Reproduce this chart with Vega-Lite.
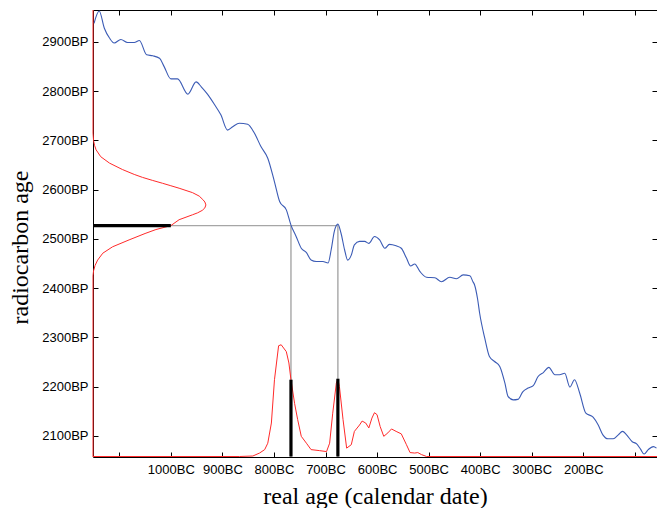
{
  "$schema": "https://vega.github.io/schema/vega-lite/v6.json",
  "autosize": {"type": "none"},
  "padding": {"left": 93, "top": 10, "right": 0, "bottom": 51},
  "width": 564,
  "height": 447,
  "background": "white",
  "view": {"stroke": null},
  "config": {
    "axis": {
      "grid": false,
      "domainColor": "black",
      "domainWidth": 1,
      "tickColor": "black",
      "tickWidth": 1,
      "labelFont": "Liberation Sans",
      "labelFontSize": 13,
      "labelColor": "black",
      "titleFont": "Liberation Serif",
      "titleFontSize": 24,
      "titleFontWeight": "normal",
      "titleColor": "black",
      "labelOverlap": false,
      "labelFlush": false
    }
  },
  "resolve": {"axis": {"x": "independent", "y": "independent"}},
  "layer": [
    {
      "data": {"values": [
        {"year": -1151, "bp": 2527, "year2": -676, "bp2": 2527},
        {"year": -767, "bp": 2527, "year2": -767, "bp2": 2057},
        {"year": -676, "bp": 2527, "year2": -676, "bp2": 2057}
      ]},
      "mark": {"type": "rule", "color": "#a6a6a6", "strokeWidth": 1.4},
      "encoding": {
        "x": {"field": "year", "type": "quantitative",
              "scale": {"domain": [-1151, -57], "nice": false, "zero": false},
              "axis": {"orient": "top", "values": [-1100, -1000, -900, -800, -700, -600, -500, -400, -300, -200, -100], "labels": false, "tickSize": -5, "title": null}},
        "y": {"field": "bp", "type": "quantitative",
              "scale": {"domain": [2057, 2965], "nice": false, "zero": false},
              "axis": {"orient": "right", "values": [2100, 2200, 2300, 2400, 2500, 2600, 2700, 2800, 2900], "labels": false, "tickSize": -5, "title": null}},
        "x2": {"field": "year2"},
        "y2": {"field": "bp2"}
      }
    },
    {
      "data": {"values": [
        {"year": -1149, "bp": 2938}, {"year": -1139, "bp": 2963}, {"year": -1129, "bp": 2928}, {"year": -1119, "bp": 2908},
        {"year": -1110, "bp": 2898}, {"year": -1097, "bp": 2905}, {"year": -1084, "bp": 2899}, {"year": -1071, "bp": 2899},
        {"year": -1061, "bp": 2903}, {"year": -1047, "bp": 2874}, {"year": -1035, "bp": 2872}, {"year": -1022, "bp": 2867},
        {"year": -1013, "bp": 2850}, {"year": -1000, "bp": 2825}, {"year": -987, "bp": 2825}, {"year": -967, "bp": 2794},
        {"year": -951, "bp": 2819}, {"year": -941, "bp": 2809}, {"year": -929, "bp": 2794}, {"year": -916, "bp": 2774},
        {"year": -903, "bp": 2752}, {"year": -890, "bp": 2721}, {"year": -880, "bp": 2728}, {"year": -867, "bp": 2735},
        {"year": -851, "bp": 2733}, {"year": -838, "bp": 2715}, {"year": -825, "bp": 2687}, {"year": -812, "bp": 2664},
        {"year": -799, "bp": 2616}, {"year": -789, "bp": 2576}, {"year": -776, "bp": 2559}, {"year": -767, "bp": 2528},
        {"year": -757, "bp": 2505}, {"year": -747, "bp": 2481}, {"year": -737, "bp": 2472}, {"year": -728, "bp": 2457},
        {"year": -718, "bp": 2454}, {"year": -705, "bp": 2454}, {"year": -695, "bp": 2451}, {"year": -689, "bp": 2478},
        {"year": -683, "bp": 2515}, {"year": -676, "bp": 2530}, {"year": -670, "bp": 2512}, {"year": -663, "bp": 2478},
        {"year": -657, "bp": 2457}, {"year": -650, "bp": 2467}, {"year": -644, "bp": 2488}, {"year": -634, "bp": 2495},
        {"year": -624, "bp": 2495}, {"year": -616, "bp": 2491}, {"year": -605, "bp": 2505}, {"year": -595, "bp": 2498},
        {"year": -585, "bp": 2481}, {"year": -576, "bp": 2489}, {"year": -563, "bp": 2486}, {"year": -553, "bp": 2481},
        {"year": -543, "bp": 2461}, {"year": -535, "bp": 2445}, {"year": -527, "bp": 2449}, {"year": -517, "bp": 2434},
        {"year": -504, "bp": 2422}, {"year": -488, "bp": 2421}, {"year": -475, "bp": 2413}, {"year": -459, "bp": 2422},
        {"year": -446, "bp": 2419}, {"year": -433, "bp": 2427}, {"year": -420, "bp": 2425}, {"year": -414, "bp": 2413},
        {"year": -411, "bp": 2407}, {"year": -405, "bp": 2378}, {"year": -401, "bp": 2349}, {"year": -391, "bp": 2298},
        {"year": -382, "bp": 2261}, {"year": -372, "bp": 2251}, {"year": -362, "bp": 2241}, {"year": -352, "bp": 2207},
        {"year": -346, "bp": 2180}, {"year": -336, "bp": 2173}, {"year": -327, "bp": 2174}, {"year": -317, "bp": 2190},
        {"year": -307, "bp": 2197}, {"year": -297, "bp": 2202}, {"year": -288, "bp": 2220}, {"year": -277, "bp": 2229},
        {"year": -267, "bp": 2239}, {"year": -255, "bp": 2224}, {"year": -246, "bp": 2224}, {"year": -236, "bp": 2227},
        {"year": -226, "bp": 2199}, {"year": -217, "bp": 2214}, {"year": -207, "bp": 2187}, {"year": -195, "bp": 2146},
        {"year": -181, "bp": 2138}, {"year": -171, "bp": 2122}, {"year": -162, "bp": 2102}, {"year": -152, "bp": 2094},
        {"year": -142, "bp": 2094}, {"year": -132, "bp": 2102}, {"year": -124, "bp": 2109}, {"year": -116, "bp": 2102},
        {"year": -105, "bp": 2088}, {"year": -97, "bp": 2084}, {"year": -89, "bp": 2073}, {"year": -82, "bp": 2063},
        {"year": -74, "bp": 2072}, {"year": -64, "bp": 2078}, {"year": -58, "bp": 2075}
      ]},
      "mark": {"type": "line", "color": "#3b5bb5", "strokeWidth": 1.1, "interpolate": "monotone"},
      "encoding": {
        "x": {"field": "year", "type": "quantitative",
              "axis": {"orient": "bottom", "values": [-1100, -1000, -900, -800, -700, -600, -500, -400, -300, -200, -100],
                       "labelExpr": "datum.value == -1100 || datum.value == -100 ? '' : (-datum.value) + 'BC'",
                       "tickSize": -5, "labelPadding": 11, "title": "real age (calendar date)", "titlePadding": 8}},
        "y": {"field": "bp", "type": "quantitative",
              "axis": {"orient": "left", "values": [2100, 2200, 2300, 2400, 2500, 2600, 2700, 2800, 2900],
                       "labelExpr": "datum.value + 'BP'", "tickSize": -5, "labelPadding": 10,
                       "title": "radiocarbon age", "titleX": -66, "titleY": 237, "titleBaseline": "alphabetic"}}
      }
    },
    {
      "data": {"values": [
        {"year": -1151, "bp": 2058}, {"year": -867, "bp": 2058}, {"year": -841, "bp": 2059}, {"year": -828, "bp": 2065},
        {"year": -818, "bp": 2072}, {"year": -812, "bp": 2085}, {"year": -805, "bp": 2126}, {"year": -799, "bp": 2214},
        {"year": -791, "bp": 2283}, {"year": -786, "bp": 2285}, {"year": -776, "bp": 2271}, {"year": -771, "bp": 2248},
        {"year": -767, "bp": 2214}, {"year": -760, "bp": 2166}, {"year": -754, "bp": 2133}, {"year": -747, "bp": 2099},
        {"year": -737, "bp": 2085}, {"year": -728, "bp": 2072}, {"year": -712, "bp": 2070}, {"year": -698, "bp": 2068},
        {"year": -692, "bp": 2085}, {"year": -686, "bp": 2146}, {"year": -679, "bp": 2207}, {"year": -676, "bp": 2215},
        {"year": -673, "bp": 2200}, {"year": -666, "bp": 2133}, {"year": -659, "bp": 2075}, {"year": -650, "bp": 2082},
        {"year": -644, "bp": 2109}, {"year": -634, "bp": 2122}, {"year": -629, "bp": 2130}, {"year": -622, "bp": 2126},
        {"year": -616, "bp": 2116}, {"year": -610, "bp": 2136}, {"year": -605, "bp": 2147}, {"year": -600, "bp": 2143},
        {"year": -594, "bp": 2119}, {"year": -587, "bp": 2099}, {"year": -579, "bp": 2106}, {"year": -572, "bp": 2114},
        {"year": -563, "bp": 2109}, {"year": -553, "bp": 2104}, {"year": -543, "bp": 2082}, {"year": -536, "bp": 2066},
        {"year": -527, "bp": 2065}, {"year": -521, "bp": 2066}, {"year": -514, "bp": 2062}, {"year": -504, "bp": 2058},
        {"year": -57, "bp": 2058}
      ]},
      "mark": {"type": "line", "color": "#ff2a2a", "strokeWidth": 1},
      "encoding": {
        "x": {"field": "year", "type": "quantitative", "axis": null},
        "y": {"field": "bp", "type": "quantitative", "axis": null}
      }
    },
    {
      "data": {"values": [
        {"i": 0, "year": -1151, "bp": 2965}, {"i": 1, "year": -1151, "bp": 2715}, {"i": 2, "year": -1150, "bp": 2700},
        {"i": 3, "year": -1148, "bp": 2690}, {"i": 4, "year": -1145, "bp": 2681}, {"i": 5, "year": -1136, "bp": 2667},
        {"i": 6, "year": -1119, "bp": 2654}, {"i": 7, "year": -1094, "bp": 2641}, {"i": 8, "year": -1071, "bp": 2631},
        {"i": 9, "year": -1055, "bp": 2625}, {"i": 10, "year": -1036, "bp": 2619}, {"i": 11, "year": -1016, "bp": 2613},
        {"i": 12, "year": -1000, "bp": 2608}, {"i": 13, "year": -984, "bp": 2603}, {"i": 14, "year": -958, "bp": 2594},
        {"i": 15, "year": -945, "bp": 2587}, {"i": 16, "year": -938, "bp": 2580}, {"i": 17, "year": -934, "bp": 2575},
        {"i": 18, "year": -932, "bp": 2569}, {"i": 19, "year": -934, "bp": 2563}, {"i": 20, "year": -939, "bp": 2558},
        {"i": 21, "year": -948, "bp": 2553}, {"i": 22, "year": -958, "bp": 2549}, {"i": 23, "year": -984, "bp": 2539},
        {"i": 24, "year": -1000, "bp": 2527}, {"i": 25, "year": -1029, "bp": 2519}, {"i": 26, "year": -1050, "bp": 2511},
        {"i": 27, "year": -1081, "bp": 2498}, {"i": 28, "year": -1113, "bp": 2484}, {"i": 29, "year": -1132, "bp": 2471},
        {"i": 30, "year": -1142, "bp": 2457}, {"i": 31, "year": -1147, "bp": 2446}, {"i": 32, "year": -1150, "bp": 2435},
        {"i": 33, "year": -1151, "bp": 2425}, {"i": 34, "year": -1151, "bp": 2057}
      ]},
      "mark": {"type": "line", "color": "#ff2a2a", "strokeWidth": 1},
      "encoding": {
        "x": {"field": "year", "type": "quantitative", "axis": null},
        "y": {"field": "bp", "type": "quantitative", "axis": null},
        "order": {"field": "i", "type": "quantitative"}
      }
    },
    {
      "data": {"values": [
        {"year": -1151, "bp": 2527, "year2": -1000, "bp2": 2527},
        {"year": -767, "bp": 2058, "year2": -767, "bp2": 2214},
        {"year": -676, "bp": 2058, "year2": -676, "bp2": 2216}
      ]},
      "mark": {"type": "rule", "color": "black", "strokeWidth": 3.2},
      "encoding": {
        "x": {"field": "year", "type": "quantitative", "axis": null},
        "y": {"field": "bp", "type": "quantitative", "axis": null},
        "x2": {"field": "year2"},
        "y2": {"field": "bp2"}
      }
    }
  ]
}
